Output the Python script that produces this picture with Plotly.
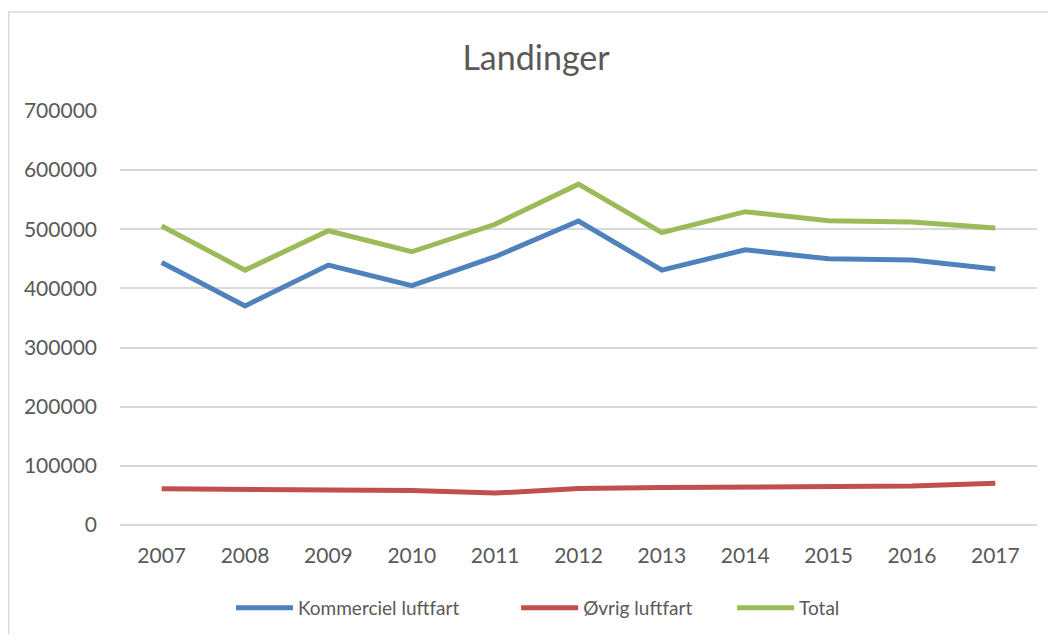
import plotly.graph_objects as go

aar = ["2007", "2008", "2009", "2010", "2011", "2012", "2013", "2014", "2015", "2016", "2017"]
kommerciel = [444000, 370500, 439500, 404600, 453600, 514000, 431000, 465300, 450000, 448000, 433000]
oevrig = [61100, 60600, 58900, 58300, 53900, 61700, 63300, 64400, 66100, 66100, 70600]
total = [505600, 431000, 497600, 462000, 508500, 576300, 494300, 529800, 514600, 512300, 502000]

serier = [
    ("Kommerciel luftfart", kommerciel, "#4f81bd", "legend", 0.121),
    ("Øvrig luftfart", oevrig, "#c0504d", "legend2", 0.432),
    ("Total", total, "#9bbb59", "legend3", 0.6675),
]

fig = go.Figure()
legender = {}
for navn, vaerdier, farve, leg, lx in serier:
    fig.add_trace(go.Scatter(x=aar, y=vaerdier, name=navn, mode="lines", legend=leg,
                             line=dict(color=farve, width=5)))
    legender[leg] = dict(orientation="h", x=lx, xanchor="left",
                         yref="container", y=0.0415, yanchor="middle",
                         itemwidth=57, font=dict(size=19, color="#595959"),
                         bgcolor="rgba(0,0,0,0)")

# ramme om diagrammet (som i Excel)
fig.add_shape(type="rect", xref="paper", yref="paper",
              x0=-0.1215, x1=1.2, y0=-0.5, y1=1.2391,
              line=dict(color="#d9d9d9", width=1.5), layer="below")

# siden har 8px margen i browseren, derfor lidt mindre figur
fig.update_layout(
    width=1040, height=626,
    margin=dict(l=112, r=11, t=103, b=109, autoexpand=False),
    paper_bgcolor="white", plot_bgcolor="white",
    font=dict(family="Lato", color="#595959", size=21),
    title=dict(text="Landinger", x=0.5077, xanchor="center", y=0.92, yanchor="middle",
               font=dict(size=34, color="#595959")),
    showlegend=True,
    **legender,
)
fig.update_xaxes(type="category", range=[-0.5, 10.5], showgrid=False,
                 showline=False, ticks="", ticklabelstandoff=16)
fig.update_yaxes(range=[0, 700000], dtick=100000, showgrid=True, gridcolor="#d9d9d9",
                 gridwidth=1.5, zeroline=True, zerolinecolor="#d9d9d9", zerolinewidth=1.5,
                 tickformat="d", ticks="", ticklabelstandoff=22)

fig.write_html("out.html")
